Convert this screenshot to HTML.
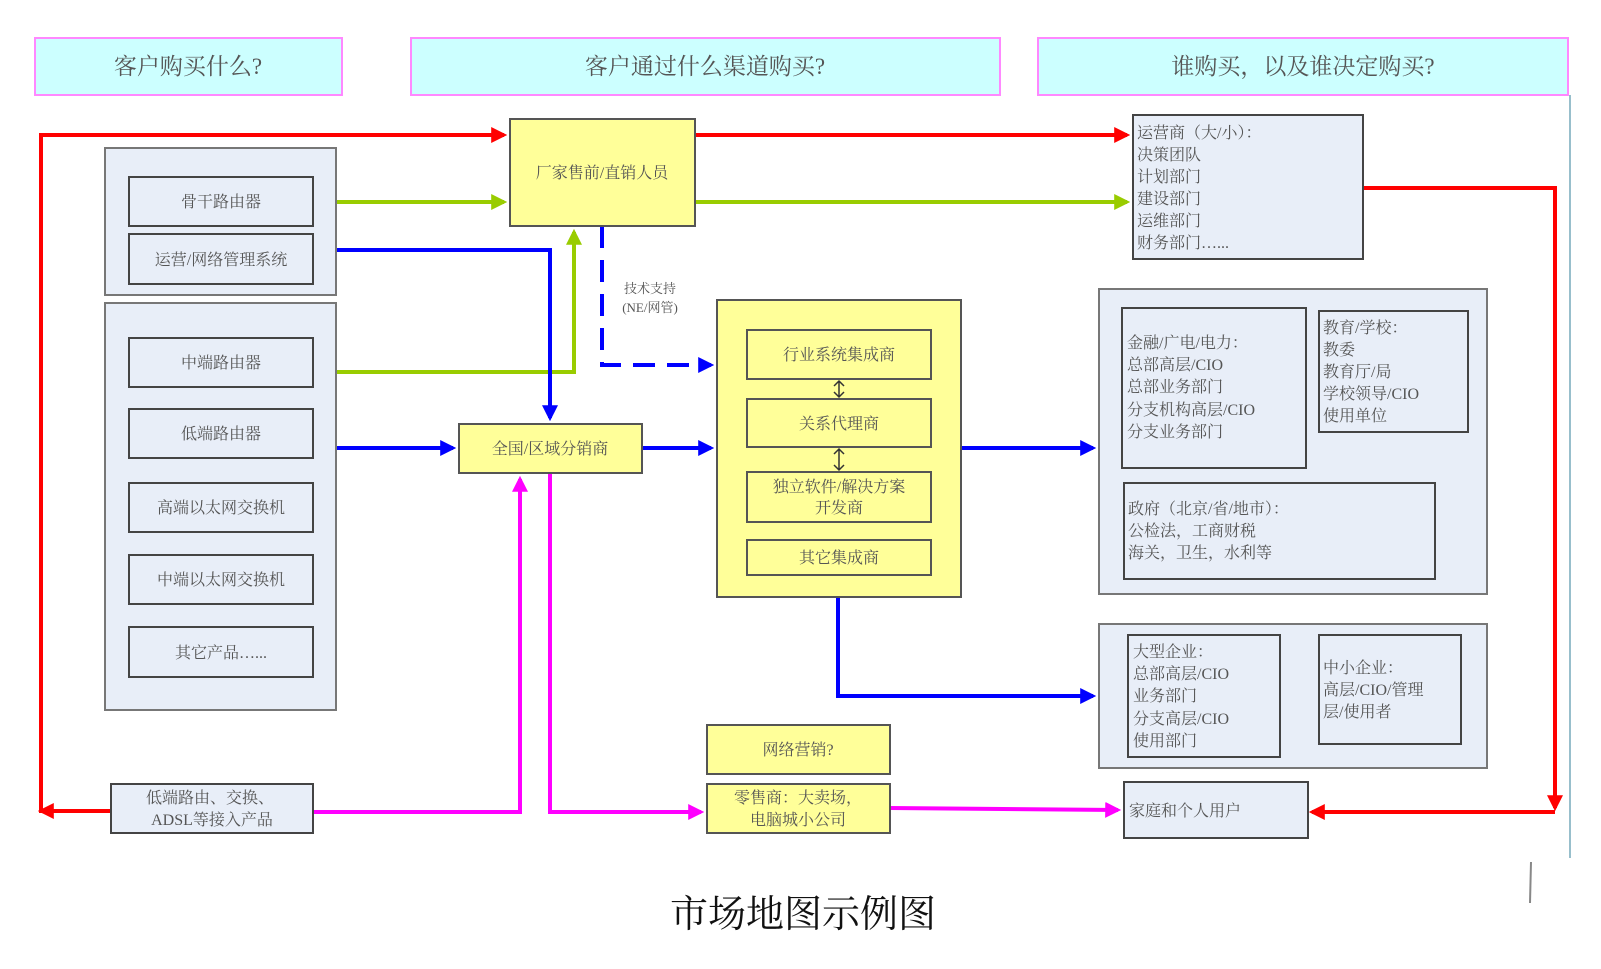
<!DOCTYPE html>
<html><head><meta charset="utf-8"><style>
body{margin:0;background:#fff}
svg text{font-family:"Liberation Serif","Noto Serif CJK SC","Noto Sans CJK SC",serif;fill:#555}
</style></head><body>
<svg width="1601" height="964" viewBox="0 0 1601 964" xmlns="http://www.w3.org/2000/svg">
<defs>
<marker id="ar" markerWidth="4" markerHeight="4" refX="3.2" refY="2" orient="auto" markerUnits="strokeWidth"><path d="M0,0 L4,2 L0,4 z" fill="#f00"/></marker>
<marker id="ag" markerWidth="4" markerHeight="4" refX="3.2" refY="2" orient="auto" markerUnits="strokeWidth"><path d="M0,0 L4,2 L0,4 z" fill="#99cc00"/></marker>
<marker id="ab" markerWidth="4" markerHeight="4" refX="3.2" refY="2" orient="auto" markerUnits="strokeWidth"><path d="M0,0 L4,2 L0,4 z" fill="#0000ff"/></marker>
<marker id="am" markerWidth="4" markerHeight="4" refX="3.2" refY="2" orient="auto" markerUnits="strokeWidth"><path d="M0,0 L4,2 L0,4 z" fill="#ff00ff"/></marker>
</defs>
<!-- headers -->
<g fill="#ccffff" stroke="#ff88ff" stroke-width="2">
<rect x="35" y="38" width="307" height="57"/>
<rect x="411" y="38" width="589" height="57"/>
<rect x="1038" y="38" width="530" height="57"/>
</g>
<g font-size="23" text-anchor="middle">
<text x="188" y="74">客户购买什么?</text>
<text x="705" y="74">客户通过什么渠道购买?</text>
<text x="1303" y="74">谁购买，以及谁决定购买?</text>
</g>
<line x1="1570" y1="95" x2="1570" y2="858" stroke="#7ab" stroke-width="1.5"/>
<line x1="1531" y1="862" x2="1530" y2="903" stroke="#888" stroke-width="2"/>

<!-- connectors -->
<g fill="none" stroke-width="4">
<polyline points="111,811 41,811 41,135 504,135" stroke="#f00"/>
<polyline points="49,811 41,811" stroke="#f00" marker-end="url(#ar)"/>
<line x1="41" y1="135" x2="504" y2="135" stroke="#f00" marker-end="url(#ar)"/>
<line x1="695" y1="135" x2="1127" y2="135" stroke="#f00" marker-end="url(#ar)"/>
<polyline points="1363,188 1555,188 1555,808" stroke="#f00" marker-end="url(#ar)"/>
<polyline points="1555,812 1312,812" stroke="#f00" marker-end="url(#ar)"/>
<line x1="336" y1="202" x2="504" y2="202" stroke="#99cc00" marker-end="url(#ag)"/>
<line x1="695" y1="202" x2="1127" y2="202" stroke="#99cc00" marker-end="url(#ag)"/>
<polyline points="336,372 574,372 574,232" stroke="#99cc00" marker-end="url(#ag)"/>
<polyline points="336,250 550,250 550,418" stroke="#0000ff" marker-end="url(#ab)"/>
<line x1="336" y1="448" x2="453" y2="448" stroke="#0000ff" marker-end="url(#ab)"/>
<line x1="642" y1="448" x2="711" y2="448" stroke="#0000ff" marker-end="url(#ab)"/>
<line x1="961" y1="448" x2="1093" y2="448" stroke="#0000ff" marker-end="url(#ab)"/>
<polyline points="838,597 838,696 1093,696" stroke="#0000ff" marker-end="url(#ab)"/>
<polyline points="602,226 602,365 711,365" stroke="#0000ff" stroke-dasharray="22,12" marker-end="url(#ab)"/>
<polyline points="313,812 520,812 520,479" stroke="#ff00ff" marker-end="url(#am)"/>
<polyline points="550,473 550,812 701,812" stroke="#ff00ff" marker-end="url(#am)"/>
<line x1="890" y1="808" x2="1118" y2="810" stroke="#ff00ff" marker-end="url(#am)"/>
</g>
<text x="650" y="293" font-size="13" text-anchor="middle">技术支持</text>
<text x="650" y="312" font-size="13" text-anchor="middle">(NE/网管)</text>

<!-- left groups -->
<g fill="#e8eef8" stroke="#777" stroke-width="2">
<rect x="105" y="148" width="231" height="147"/>
<rect x="105" y="303" width="231" height="407"/>
</g>
<g fill="#e8eef8" stroke="#444" stroke-width="2">
<rect x="129" y="177" width="184" height="49"/>
<rect x="129" y="234" width="184" height="50"/>
<rect x="129" y="338" width="184" height="49"/>
<rect x="129" y="409" width="184" height="49"/>
<rect x="129" y="483" width="184" height="49"/>
<rect x="129" y="555" width="184" height="49"/>
<rect x="129" y="627" width="184" height="50"/>
<rect x="111" y="784" width="202" height="49"/>
</g>
<g font-size="16" text-anchor="middle">
<text x="221" y="207">骨干路由器</text>
<text x="221" y="265">运营/网络管理系统</text>
<text x="221" y="368">中端路由器</text>
<text x="221" y="439">低端路由器</text>
<text x="221" y="513">高端以太网交换机</text>
<text x="221" y="585">中端以太网交换机</text>
<text x="221" y="658">其它产品…...</text>
<text x="210" y="803">低端路由、交换、</text>
<text x="212" y="825">ADSL等接入产品</text>
</g>

<!-- yellow -->
<g fill="#ffff99" stroke="#555" stroke-width="2">
<rect x="510" y="119" width="185" height="107"/>
<rect x="459" y="424" width="183" height="49"/>
<rect x="717" y="300" width="244" height="297"/>
<rect x="747" y="330" width="184" height="49"/>
<rect x="747" y="399" width="184" height="48"/>
<rect x="747" y="472" width="184" height="50"/>
<rect x="747" y="540" width="184" height="35"/>
<rect x="707" y="725" width="183" height="49"/>
<rect x="707" y="784" width="183" height="49"/>
</g>
<g font-size="16" text-anchor="middle">
<text x="602" y="178">厂家售前/直销人员</text>
<text x="550" y="454">全国/区域分销商</text>
<text x="839" y="360">行业系统集成商</text>
<text x="839" y="429">关系代理商</text>
<text x="839" y="492">独立软件/解决方案</text>
<text x="839" y="513">开发商</text>
<text x="839" y="563">其它集成商</text>
<text x="798" y="755">网络营销?</text>
<text x="798" y="803">零售商：大卖场，</text>
<text x="798" y="825">电脑城小公司</text>
</g>
<g stroke="#333" stroke-width="1.5" fill="none">
<path d="M839,381 V397 M834,386 L839,381 L844,386 M834,392 L839,397 L844,392"/>
<path d="M839,449 V470 M834,454 L839,449 L844,454 M834,465 L839,470 L844,465"/>
</g>

<!-- right -->
<g fill="#e8eef8" stroke="#777" stroke-width="2">
<rect x="1099" y="289" width="388" height="305"/>
<rect x="1099" y="624" width="388" height="144"/>
</g>
<g fill="#e8eef8" stroke="#444" stroke-width="2">
<rect x="1133" y="115" width="230" height="144"/>
<rect x="1122" y="308" width="184" height="160"/>
<rect x="1319" y="311" width="149" height="121"/>
<rect x="1124" y="483" width="311" height="96"/>
<rect x="1128" y="635" width="152" height="122"/>
<rect x="1319" y="635" width="142" height="109"/>
<rect x="1124" y="782" width="184" height="56"/>
</g>
<g font-size="16">
<text x="1137" y="138">运营商（大/小）：</text>
<text x="1137" y="160">决策团队</text>
<text x="1137" y="182">计划部门</text>
<text x="1137" y="204">建设部门</text>
<text x="1137" y="226">运维部门</text>
<text x="1137" y="248">财务部门…...</text>
<text x="1127" y="348">金融/广电/电力：</text>
<text x="1127" y="370">总部高层/CIO</text>
<text x="1127" y="392">总部业务部门</text>
<text x="1127" y="415">分支机构高层/CIO</text>
<text x="1127" y="437">分支业务部门</text>
<text x="1323" y="333">教育/学校：</text>
<text x="1323" y="355">教委</text>
<text x="1323" y="377">教育厅/局</text>
<text x="1323" y="399">学校领导/CIO</text>
<text x="1323" y="421">使用单位</text>
<text x="1128" y="514">政府（北京/省/地市）：</text>
<text x="1128" y="536">公检法，工商财税</text>
<text x="1128" y="558">海关，卫生，水利等</text>
<text x="1133" y="657">大型企业：</text>
<text x="1133" y="679">总部高层/CIO</text>
<text x="1133" y="701">业务部门</text>
<text x="1133" y="724">分支高层/CIO</text>
<text x="1133" y="746">使用部门</text>
<text x="1323" y="673">中小企业：</text>
<text x="1323" y="695">高层/CIO/管理</text>
<text x="1323" y="717">层/使用者</text>
<text x="1129" y="816">家庭和个人用户</text>
</g>
<text x="803" y="927" font-size="38" text-anchor="middle" style="fill:#111">市场地图示例图</text>
</svg>
</body></html>
